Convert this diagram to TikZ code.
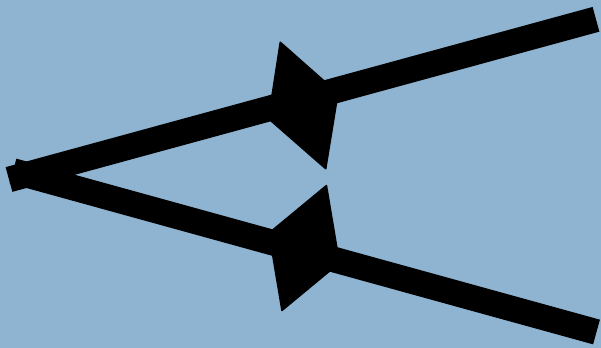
\documentclass[tikz,border=0pt]{standalone}
\usetikzlibrary{calc}
\definecolor{skyBack}{RGB}{143,180,209}
\definecolor{rayInk}{HTML}{000000}
\tikzset{
  ray/.style={
    draw=rayInk,
    line width=12.8mm,
    line cap=butt
  },
  barb/.style={
    fill=rayInk,
    draw=rayInk,
    line width=0.8mm,
    line join=round
  }
}
\begin{document}
\begin{tikzpicture}[x=0.5mm,y=-0.5mm]
  \fill[skyBack] (0,0) rectangle (601,348);
  \useasboundingbox (0,0) rectangle (601,348);

  \coordinate (upStart) at (9,179.5);
  \coordinate (upEnd) at (596,19.3);
  \coordinate (lowStart) at (13,171);
  \coordinate (lowEnd) at (596.5,332);

  \draw[ray] (upStart) -- (upEnd);
  \draw[ray] (lowStart) -- (lowEnd);

  % barbs halfway along each ray
  \coordinate (upTop) at (280.3,42.3);
  \coordinate (upTip) at (338,93.3);
  \coordinate (upBottom) at (325.7,168.7);
  \coordinate (upTail) at (268.5,118.6);
  \filldraw[barb] (upTop) -- (upTip) -- (upBottom) -- (upTail) -- cycle;

  \coordinate (lowTop) at (326.4,185.6);
  \coordinate (lowTip) at (339.4,262.9);
  \coordinate (lowBottom) at (282,310.4);
  \coordinate (lowTail) at (269,233.1);
  \filldraw[barb] (lowTop) -- (lowTip) -- (lowBottom) -- (lowTail) -- cycle;
\end{tikzpicture}
\end{document}
